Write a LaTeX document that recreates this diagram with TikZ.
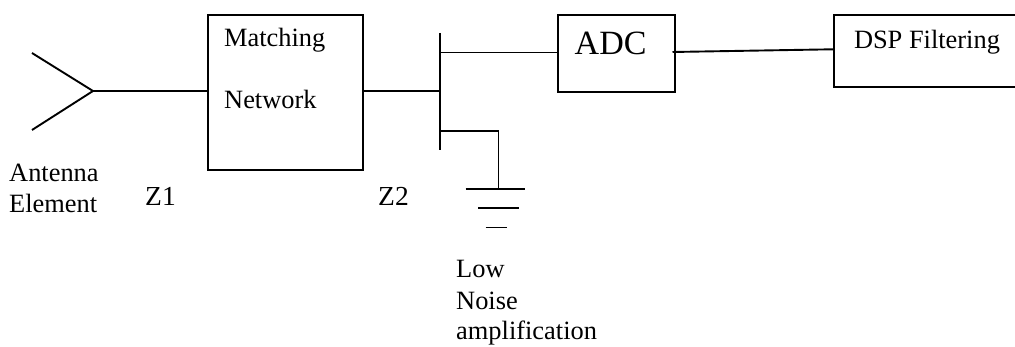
\documentclass[tikz,border=0pt]{standalone}
\usepackage{fontspec}
\setmainfont{Liberation Serif}
\usetikzlibrary{positioning}
\tikzset{
  wire/.style={line width=1.9pt},
  blockbox/.style={draw, line width=1.9pt, inner sep=0pt, anchor=north west},
  caption/.style={anchor=base west, inner sep=0pt, font=\fontsize{26.4}{30}\selectfont},
}

\begin{document}
\begin{tikzpicture}[x=1pt,y=-1pt]
        \useasboundingbox (0,0) rectangle (1015,347);
        % blocks
        \node [blockbox, minimum width=155pt, minimum height=155pt] (matchbox) at (207,14) {};
        \node [blockbox, minimum width=117.5pt, minimum height=77.5pt] (adcbox) at (556.7,14) {};
        \node [blockbox, minimum width=190pt, minimum height=72pt] (dspbox) at (833,14) {};
        % antenna
        \coordinate (tip) at (93,91);
        \coordinate (armup) at (32,53);
        \coordinate (armdown) at (32,130);
        \draw[wire] (armup) -- (tip) -- (armdown);
        \draw[wire] (tip) -- (matchbox.west |- tip);
        % transistor
        \coordinate (bartop) at (440,33);
        \coordinate (barbottom) at (440,150);
        \coordinate (gate) at (440,91);
        \coordinate (drain) at (440,52.5);
        \coordinate (source) at (440,131);
        \coordinate (groundtop) at (498.5,189);
        \coordinate (adcout) at (672.5,52);
        \coordinate (dspin) at (833,49.3);
        \draw[wire] (bartop) -- (barbottom);
        \draw[wire] (matchbox.east |- gate) -- (gate);
        \draw[wire] (drain) -- (adcbox.west |- drain);
        \draw[wire] (source) -| (groundtop);
        \draw[wire] (adcout) -- (dspin);
        % ground
        \draw[wire] (465.5,189) -- (525,189);
        \draw[wire] (478,208) -- (518.7,208);
        \draw[wire] (485.6,227.5) -- (506.5,227.5);
        % labels
        \node [caption] (matchtext) at (224,47) {Matching};
        \node [caption] (nettext) at (224,109) {Network};
        \node [caption] (anttext) at (9,182) {Antenna};
        \node [caption] (elemtext) at (9,213) {Element};
        \node [caption, font=\fontsize{27.5}{30}\selectfont] (zonetext) at (145,206) {Z1};
        \node [caption, font=\fontsize{27.5}{30}\selectfont] (ztwotext) at (378,206) {Z2};
        \node [caption] (lowtext) at (456,278) {Low};
        \node [caption] (noisetext) at (456,310) {Noise};
        \node [caption] (amptext) at (456,340) {amplification};
        \node [caption, font=\fontsize{34}{38}\selectfont] (adctext) at (574.5,55) {ADC};
        \node [caption] (dsptext) at (853.8,49) {DSP Filtering};
    \end{tikzpicture}
\end{document}
